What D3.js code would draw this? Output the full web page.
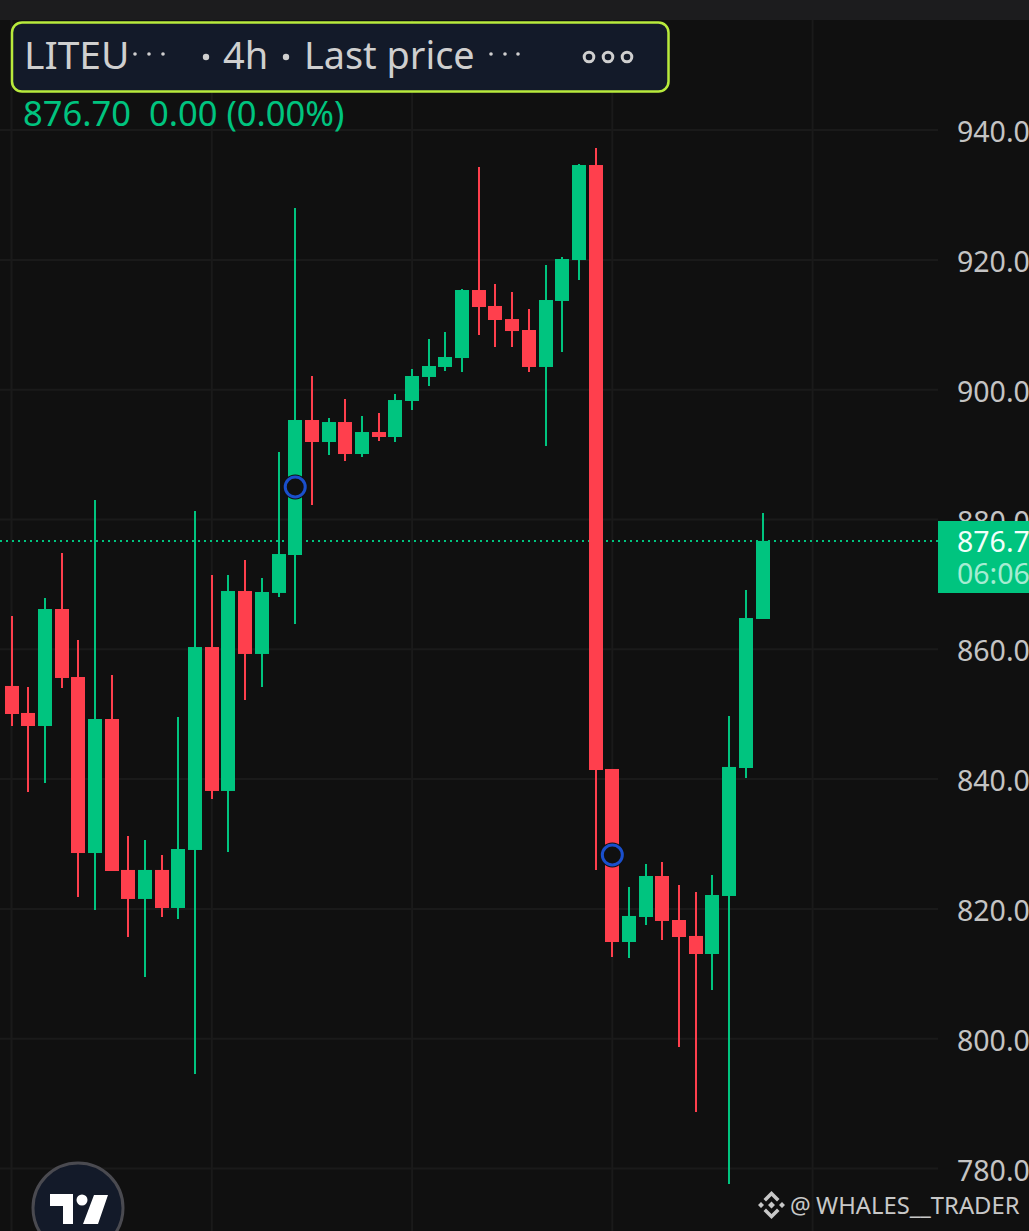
<!DOCTYPE html>
<html>
<head>
<meta charset="utf-8">
<style>
  html, body { margin: 0; padding: 0; background: #101010; overflow: hidden; }
  svg { display: block; }
  text { font-family: "Noto Sans", sans-serif; }
</style>
<script src="https://cdn.jsdelivr.net/npm/d3@7"></script>
</head>
<body>
<svg id="chart" width="1029" height="1231"></svg>
<script>
// candles, oldest first
const highs = [865.13,854.19,867.90,874.84,861.43,883.00,856.04,831.23,830.62,828.31,849.57,881.31,871.45,871.45,873.76,870.99,890.40,928.00,902.11,895.64,898.57,895.95,896.41,899.34,903.19,907.81,908.89,915.52,934.31,916.29,915.05,912.43,919.21,920.45,934.78,937.24,841.56,823.38,826.92,827.23,823.68,822.61,825.22,849.72,869.14,881.00];
const lows = [848.18,838.01,839.40,854.04,821.84,819.83,825.84,815.67,809.51,818.75,818.44,794.56,836.93,828.77,852.19,854.19,868.06,863.90,882.23,889.94,889.01,889.63,892.10,891.94,896.87,900.57,902.88,902.73,908.43,906.58,906.58,902.73,891.32,905.81,916.90,826.00,812.59,812.44,817.52,815.21,798.72,788.71,807.51,777.61,840.17,864.67];
const opens = [854.35,850.19,848.18,866.21,855.73,828.61,849.26,826.00,821.53,826.00,820.14,829.08,860.35,838.17,868.98,859.28,868.68,874.53,895.33,891.94,895.02,890.09,893.48,892.71,898.26,901.96,903.50,904.88,915.36,912.90,910.89,909.20,903.50,913.67,919.98,934.62,841.56,814.90,818.75,825.07,818.29,815.83,813.05,821.99,841.71,864.67];
const closes = [850.03,848.18,866.21,855.58,828.61,849.26,825.84,821.53,826.00,820.14,829.23,860.35,838.17,868.98,859.28,868.83,874.68,895.33,891.94,895.02,890.09,893.48,892.71,898.41,902.11,903.65,905.04,915.36,912.74,910.74,909.04,903.50,913.82,920.14,934.62,841.40,814.90,818.91,825.07,818.14,815.67,813.05,822.14,841.87,864.82,876.70];

const priceTicks = [780,800,820,840,860,880,900,920,940];
const gridBars = [0,12,24,36,48];
const markerBars = [17,36];
const markerPrices = [885.01,828.31];
const lastPrice = 876.70;
const countdown = '06:06';
const legendParts = ['LITEU', '4h', 'Last price'];
const legendValues = ['876.70', '0.00 (0.00%)'];
const watermark = 'WHALES__TRADER';

const UP = '#00c47f', DOWN = '#ff3f4d', BG = '#101010', GRID = '#1a1a1a';

let svg = d3.select('#chart');

let x = d3.scaleLinear().domain([0, 48]).range([11.5, 812.6]);
let y = d3.scaleLinear().domain([780, 880]).range([1168.5, 519.5]);

let candles = d3.range(highs.length).map((i) => ({
  i: i, high: highs[i], low: lows[i], open: opens[i], close: closes[i]
}));

// top strip above the chart
svg.append('rect').attr('width', 1029).attr('height', 20).attr('fill', '#1c1c1e');

// grid
svg.append('g').selectAll('line')
  .data(priceTicks)
  .enter()
  .append('line')
  .attr('x1', 0).attr('x2', 938)
  .attr('y1', (d) => y(d)).attr('y2', (d) => y(d))
  .attr('stroke', GRID).attr('stroke-width', 2);

svg.append('g').selectAll('line')
  .data(gridBars)
  .enter()
  .append('line')
  .attr('x1', (d) => x(d)).attr('x2', (d) => x(d))
  .attr('y1', 20).attr('y2', 1231)
  .attr('stroke', GRID).attr('stroke-width', 2);

// price axis, labels run off the right edge like the screenshot
let axis = d3.axisRight(y)
  .tickValues(priceTicks)
  .tickSize(0)
  .tickPadding(0)
  .tickFormat(d3.format('.2f'));

let axisG = svg.append('g')
  .attr('transform', 'translate(957,2.5)')
  .call(axis);
axisG.select('.domain').remove();
axisG.selectAll('text')
  .style('font-family', '"Noto Sans", sans-serif')
  .style('font-size', '28.5px')
  .attr('fill', '#c4c4c4');

// last price line
svg.append('line')
  .attr('x1', 0).attr('x2', 938)
  .attr('y1', y(lastPrice)).attr('y2', y(lastPrice))
  .attr('stroke', UP).attr('stroke-width', 2)
  .attr('stroke-dasharray', '2 4');

// candles
let g = svg.append('g').selectAll('g')
  .data(candles)
  .enter()
  .append('g');

g.append('line')
  .attr('x1', (d) => Math.round(x(d.i))).attr('x2', (d) => Math.round(x(d.i)))
  .attr('y1', (d) => y(d.high)).attr('y2', (d) => y(d.low))
  .attr('stroke', (d) => d.close >= d.open ? UP : DOWN)
  .attr('stroke-width', 2);

g.append('rect')
  .attr('x', (d) => Math.round(x(d.i)) - 7)
  .attr('width', 14)
  .attr('y', (d) => y(Math.max(d.open, d.close)))
  .attr('height', (d) => Math.abs(y(d.open) - y(d.close)))
  .attr('fill', (d) => d.close >= d.open ? UP : DOWN);

// blue markers
let markers = svg.append('g').selectAll('circle')
  .data(markerBars)
  .enter()
  .append('g')
  .attr('transform', (d, i) => `translate(${x(d)},${y(markerPrices[i])})`);
markers.append('circle').attr('r', 12.5).attr('fill', BG);
markers.append('circle').attr('r', 10).attr('fill', BG)
  .attr('stroke', '#1a4fcc').attr('stroke-width', 3);

// last price tag
svg.append('rect')
  .attr('x', 938).attr('y', 521)
  .attr('width', 91).attr('height', 72)
  .attr('fill', UP);
svg.append('text')
  .attr('x', 957).attr('y', 551.5)
  .attr('fill', '#f2fffa')
  .style('font-size', '28.5px')
  .text(d3.format('.2f')(lastPrice));
svg.append('text')
  .attr('x', 957).attr('y', 583.5)
  .attr('fill', '#a5ecd2')
  .style('font-size', '28.5px')
  .text(countdown);

// legend box
svg.append('rect')
  .attr('x', 12).attr('y', 22.5)
  .attr('width', 656.5).attr('height', 69)
  .attr('rx', 10)
  .attr('fill', '#131a29')
  .attr('stroke', '#b8ea3c').attr('stroke-width', 2.5);

let legendXs = [24, 223, 304];
let legendSizes = [39, 38, 37.8];
let legend = svg.append('g').selectAll('text')
  .data(legendParts)
  .enter()
  .append('text')
  .attr('x', (d, i) => legendXs[i])
  .attr('y', 69)
  .attr('fill', '#cfcfcf')
  .style('font-size', (d, i) => legendSizes[i] + 'px')
  .text((d) => d);

// small separator dots
let smallDots = [135, 149, 163, 491, 505, 518];
svg.append('g').selectAll('circle')
  .data(smallDots)
  .enter()
  .append('circle')
  .attr('cx', (d) => d).attr('cy', 54).attr('r', 1.8)
  .attr('fill', '#cfcfcf');

let bigDots = [206, 286];
svg.append('g').selectAll('circle')
  .data(bigDots)
  .enter()
  .append('circle')
  .attr('cx', (d) => d).attr('cy', 57).attr('r', 3.2)
  .attr('fill', '#cfcfcf');

// the three ring button
svg.append('g').selectAll('circle')
  .data([589, 608, 627])
  .enter()
  .append('circle')
  .attr('cx', (d) => d).attr('cy', 57).attr('r', 4.8)
  .attr('fill', 'none')
  .attr('stroke', '#cfcfcf').attr('stroke-width', 3);

let valueXs = [23, 149];
svg.append('g').selectAll('text')
  .data(legendValues)
  .enter()
  .append('text')
  .attr('x', (d, i) => valueXs[i])
  .attr('y', 126)
  .attr('fill', UP)
  .style('font-size', '34.5px')
  .text((d) => d);

// tradingview badge
let badge = svg.append('g').attr('transform', 'translate(78,1208)');
badge.append('circle').attr('r', 45)
  .attr('fill', '#131a29')
  .attr('stroke', '#4a4a50').attr('stroke-width', 3);
badge.append('path')
  .attr('d', 'M-28,-14H-5V16H-15V-2H-28Z M16,-13H30L20,16H5Z')
  .attr('fill', '#ffffff');
badge.append('circle').attr('cx', 4).attr('cy', -8).attr('r', 5.5).attr('fill', '#ffffff');

// watermark
let mark = svg.append('g').attr('transform', 'translate(771.5,1205)').attr('fill', '#c8c8c8');
mark.append('path').attr('d',
  'M0,-14L8,-6L5.5,-3.5L0,-9L-5.5,-3.5L-8,-6Z ' +
  'M0,14L8,6L5.5,3.5L0,9L-5.5,3.5L-8,6Z ' +
  'M0,-3.5L3.5,0L0,3.5L-3.5,0Z ' +
  'M-10.5,-3L-7.5,0L-10.5,3L-13.5,0Z ' +
  'M10.5,-3L13.5,0L10.5,3L7.5,0Z');
svg.append('text')
  .attr('x', 790).attr('y', 1214)
  .attr('fill', '#c8c8c8')
  .style('font-size', '23px')
  .text('@');
svg.append('text')
  .attr('x', 816).attr('y', 1214)
  .attr('fill', '#c8c8c8')
  .style('font-size', '23.8px')
  .text(watermark);
</script>
</body>
</html>
